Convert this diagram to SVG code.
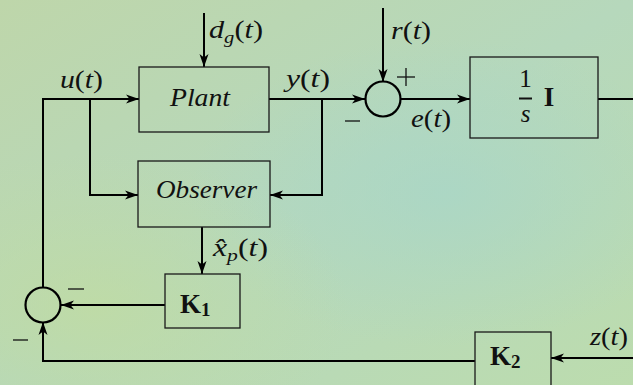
<svg xmlns="http://www.w3.org/2000/svg" width="633" height="385" viewBox="0 0 633 385">
<defs>
<linearGradient id="bg" x1="0" y1="0" x2="1" y2="1">
<stop offset="0" stop-color="#bed6aa"/>
<stop offset="0.5" stop-color="#b6d8bc"/>
<stop offset="1" stop-color="#bcdcae"/>
</linearGradient>
<radialGradient id="cy" cx="0.7" cy="0.5" r="0.4">
<stop offset="0" stop-color="#a8d6c8" stop-opacity="0.75"/>
<stop offset="1" stop-color="#a8d6c8" stop-opacity="0"/>
</radialGradient>
<radialGradient id="gr" cx="0.15" cy="0.8" r="0.4">
<stop offset="0" stop-color="#c2dc9e" stop-opacity="0.7"/>
<stop offset="1" stop-color="#c2dc9e" stop-opacity="0"/>
</radialGradient>
<marker id="ah" markerWidth="14" markerHeight="10" refX="13" refY="5" orient="auto" markerUnits="userSpaceOnUse">
<path d="M0,0.5 L13,5 L0,9.5 L3.5,5 z" fill="#000"/>
</marker>
</defs>
<style>
.box{fill:none;stroke:#1a1a1a;stroke-width:1.3}
.ln{fill:none;stroke:#000;stroke-width:2}
.sum{fill:none;stroke:#000;stroke-width:2.2}
.sg{stroke:#111;stroke-width:1.3}
.m{font-family:"Liberation Serif","DejaVu Serif",serif;font-style:italic;font-size:25px;fill:#111}
.r{font-family:"Liberation Serif","DejaVu Serif",serif;font-size:25px;fill:#111}
.b{font-family:"Liberation Serif","DejaVu Serif",serif;font-weight:bold;font-size:27px;fill:#111}
.n{font-style:normal}
</style>
<rect width="633" height="385" fill="url(#bg)"/>
<rect width="633" height="385" fill="url(#cy)"/>
<rect width="633" height="385" fill="url(#gr)"/>

<g id="connectors">
<path class="ln" d="M204,13 V67" marker-end="url(#ah)"/>
<path class="ln" d="M43,287 V99 H139" marker-end="url(#ah)"/>
<path class="ln" d="M90,99 V195 H138" marker-end="url(#ah)"/>
<path class="ln" d="M269,99 H365" marker-end="url(#ah)"/>
<path class="ln" d="M322,99 V195 H270" marker-end="url(#ah)"/>
<path class="ln" d="M383,8 V82" marker-end="url(#ah)"/>
<path class="ln" d="M400,99 H470" marker-end="url(#ah)"/>
<path class="ln" d="M598,99 H633"/>
<path class="ln" d="M202,227 V274" marker-end="url(#ah)"/>
<path class="ln" d="M165,305 H61" marker-end="url(#ah)"/>
<path class="ln" d="M475,361 H43 V322" marker-end="url(#ah)"/>
<path class="ln" d="M633,358 H551" marker-end="url(#ah)"/>
</g>

<g id="plant">
<rect class="box" x="139" y="67" width="130" height="65"/>
<text class="m" x="170" y="106" textLength="60" lengthAdjust="spacingAndGlyphs">Plant</text>
</g>
<g id="observer">
<rect class="box" x="138" y="161" width="132" height="66"/>
<text class="m" x="156" y="198" textLength="101" lengthAdjust="spacingAndGlyphs">Observer</text>
</g>
<g id="integrator">
<rect class="box" x="470" y="57" width="128" height="81"/>
<text class="r" x="525.5" y="87" text-anchor="middle">1</text>
<line x1="519" y1="98.5" x2="532" y2="98.5" stroke="#111" stroke-width="2"/>
<text class="m" x="525.5" y="122" text-anchor="middle">s</text>
<text class="b" x="549" y="106" text-anchor="middle" font-size="25">I</text>
</g>
<g id="k1">
<rect class="box" x="165" y="274" width="75" height="54"/>
<text class="b" x="180" y="313">K<tspan font-size="19" dy="3">1</tspan></text>
</g>
<g id="k2">
<rect class="box" x="475" y="332" width="76" height="58"/>
<text class="b" x="490" y="365">K<tspan font-size="19" dy="3">2</tspan></text>
</g>
<g id="sum1">
<circle class="sum" cx="383" cy="99" r="17.5"/>
<line class="sg" x1="397" y1="77" x2="415" y2="77"/>
<line class="sg" x1="406" y1="68" x2="406" y2="86"/>
<line class="sg" x1="345" y1="121" x2="360" y2="121"/>
</g>
<g id="sum2">
<circle class="sum" cx="43" cy="305" r="17.5"/>
<line class="sg" x1="68" y1="289" x2="84" y2="289"/>
<line class="sg" x1="13" y1="340" x2="28" y2="340"/>
</g>

<g id="labels">
<text class="m" x="209" y="38" textLength="54" lengthAdjust="spacingAndGlyphs">d<tspan font-size="17" dy="5">g</tspan><tspan class="n" dy="-5">(</tspan>t<tspan class="n">)</tspan></text>
<text class="m" x="60" y="88" textLength="43" lengthAdjust="spacingAndGlyphs">u<tspan class="n">(</tspan>t<tspan class="n">)</tspan></text>
<text class="m" x="286" y="87" textLength="44" lengthAdjust="spacingAndGlyphs">y<tspan class="n">(</tspan>t<tspan class="n">)</tspan></text>
<text class="m" x="391" y="39" textLength="40" lengthAdjust="spacingAndGlyphs">r<tspan class="n">(</tspan>t<tspan class="n">)</tspan></text>
<text class="m" x="411" y="127" textLength="40" lengthAdjust="spacingAndGlyphs">e<tspan class="n">(</tspan>t<tspan class="n">)</tspan></text>
<text class="m" x="213" y="256" textLength="55" lengthAdjust="spacingAndGlyphs">x̂<tspan font-size="17" dy="5">p</tspan><tspan class="n" dy="-5">(</tspan>t<tspan class="n">)</tspan></text>
<text class="m" x="590" y="345" textLength="38" lengthAdjust="spacingAndGlyphs">z<tspan class="n">(</tspan>t<tspan class="n">)</tspan></text>
</g>
</svg>
